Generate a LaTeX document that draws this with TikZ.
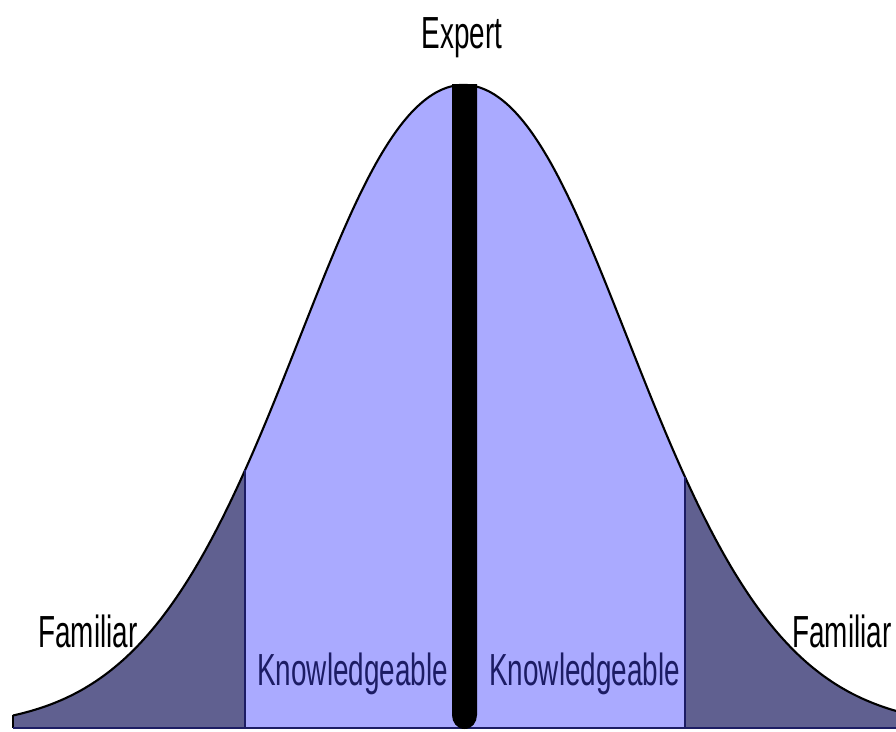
\documentclass[tikz,border=0pt]{standalone}
\usepackage{fontspec}
\newfontfamily\lblfont[FakeStretch=0.62]{Liberation Sans}
\definecolor{lightfill}{RGB}{170,170,255}
\definecolor{darkfill}{RGB}{96,96,144}
\definecolor{navy}{RGB}{28,28,100}
\begin{document}
\begin{tikzpicture}[x=0.02cm,y=-0.02cm,
  lbl/.style={inner sep=0pt,font=\lblfont\fontsize{25.6pt}{30pt}\selectfont},
  curveline/.style={draw=black,line width=1.2pt,line join=round},
  divider/.style={draw=navy,line width=0.9pt}]
\useasboundingbox (0,0) rectangle (896,731);
\def\bell#1{728-643*exp(-0.5*((#1-463.5)/160.6)^2)-62*((#1-463.5)/160.6)^2*exp(-2*((#1-463.5)/160.6)^2)}
% dark left tail
\fill[darkfill] (13,728) -- plot[domain=13:245,samples=80] (\x,{\bell{\x}}) -- (245,728) -- cycle;
% light middle
\fill[lightfill] (245,728) -- plot[domain=245:685,samples=160] (\x,{\bell{\x}}) -- (685,728) -- cycle;
% dark right tail
\fill[darkfill] (685,728) -- plot[domain=685:896,samples=80] (\x,{\bell{\x}}) -- (896,728) -- cycle;
% outline
\draw[curveline] plot[domain=13:896,samples=300] (\x,{\bell{\x}});
\draw[curveline] (13,{\bell{13}}) -- (13,728);
% base line
\draw[draw=navy,line width=1.5pt] (13,728) -- (896,728);
% dividers
\coordinate (dl) at (245,{\bell{245}});
\coordinate (dlb) at (245,728);
\coordinate (dr) at (685,{\bell{685}});
\coordinate (drb) at (685,728);
\draw[divider] (dl) -- (dlb);
\draw[divider] (dr) -- (drb);
% black bar
\fill[black] (452,84) -- (477,84) -- (477,715) to[out=-90,in=0] (464.5,729) to[out=180,in=-90] (452,715) -- cycle;
% labels
\node[lbl,anchor=base] (expert) at (462,48) {Expert};
\node[lbl,anchor=base west] (famL) at (38,647) {Familiar};
\node[lbl,anchor=base west] (famR) at (792,647) {Familiar};
\node[lbl,anchor=base west,text=navy] (knowL) at (257,685) {Knowledgeable};
\node[lbl,anchor=base west,text=navy] (knowR) at (489,685) {Knowledgeable};
\end{tikzpicture}
\end{document}
